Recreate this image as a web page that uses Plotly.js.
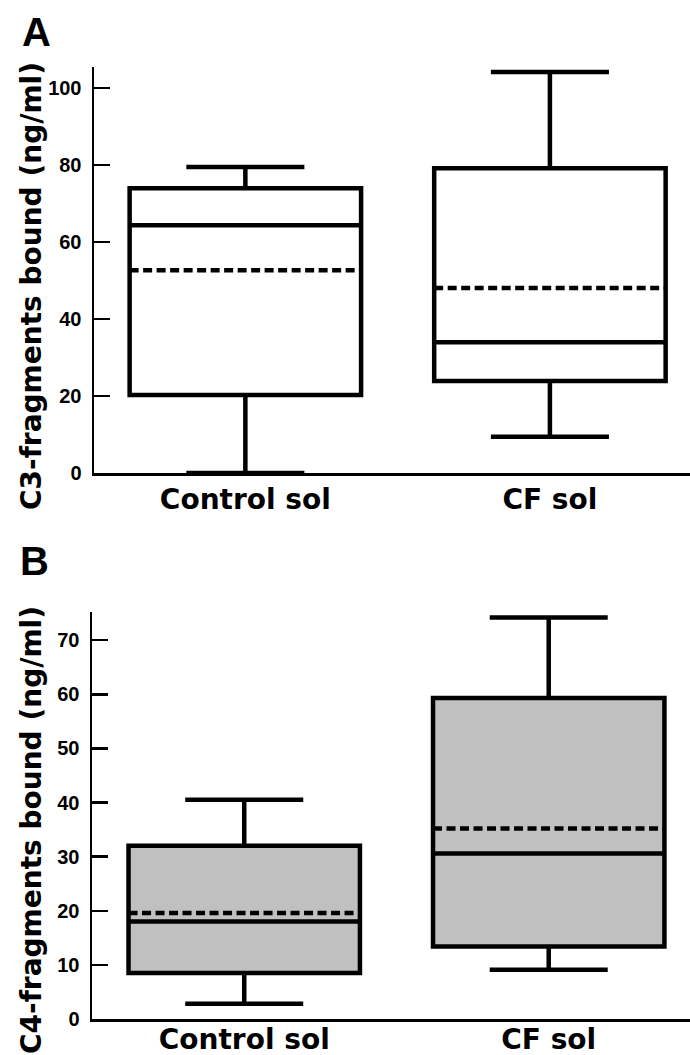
<!DOCTYPE html>
<html><head><meta charset="utf-8">
<script src="https://cdn.plot.ly/plotly-3.0.1.min.js"></script>
<style>html,body{margin:0;padding:0;background:#fff;} #chart{width:690px;height:1055px;}</style>
</head><body><div id="chart"></div>
<script>
const categories = ["Control sol", "CF sol"];
// Panel A: C3-fragments bound (ng/ml)
const c3Lower = [0, 9.4];
const c3Q1 = [20.3, 23.9];
const c3Median = [64.4, 34.0];
const c3Mean = [52.7, 48.1];
const c3Q3 = [74.0, 79.2];
const c3Upper = [79.5, 104.2];
const c3TickVals = [0, 20, 40, 60, 80, 100];
// Panel B: C4-fragments bound (ng/ml)
const c4Lower = [2.8, 9.1];
const c4Q1 = [8.5, 13.4];
const c4Median = [18.0, 30.6];
const c4Mean = [19.6, 35.2];
const c4Q3 = [32.0, 59.3];
const c4Upper = [40.5, 74.2];
const c4TickVals = [0, 10, 20, 30, 40, 50, 60, 70];

const W = 690, H = 1055;
const px = v => v / W;
const py = v => 1 - v / H;

const boxStyle = {
  type: 'box', boxmean: true, boxpoints: false, width: 0.76, whiskerwidth: 0.51,
  line: {color: '#000', width: 4.5}, hoverinfo: 'skip'
};

const traces = [
  Object.assign({}, boxStyle, {
    x: categories, q1: c3Q1, median: c3Median, q3: c3Q3,
    lowerfence: c3Lower, upperfence: c3Upper, mean: c3Mean,
    fillcolor: '#ffffff', xaxis: 'x', yaxis: 'y'
  }),
  Object.assign({}, boxStyle, {
    x: categories, q1: c4Q1, median: c4Median, q3: c4Q3,
    lowerfence: c4Lower, upperfence: c4Upper, mean: c4Mean,
    fillcolor: '#c0c0c0', xaxis: 'x2', yaxis: 'y2'
  })
];

const xCommon = {
  type: 'category', showline: true, linecolor: '#000', linewidth: 2.5,
  ticks: '', showgrid: false, zeroline: false, fixedrange: true,
  tickfont: {family: 'DejaVu Sans', size: 28, weight: 'bold', color: '#000'}
};
const yCommon = {
  showline: true, linecolor: '#000', linewidth: 2.5,
  ticks: 'inside', ticklen: 16, tickwidth: 2.5, tickcolor: '#000',
  showgrid: false, zeroline: false, fixedrange: true,
  tickfont: {family: 'Liberation Sans', size: 20, weight: 'bold', color: '#000'},
  ticklabelstandoff: 6
};

const layout = {
  width: W, height: H, margin: {l: 0, r: 0, t: 0, b: 0},
  paper_bgcolor: '#fff', plot_bgcolor: 'rgba(0,0,0,0)', showlegend: false,
  xaxis: Object.assign({}, xCommon, {domain: [px(94), 1], anchor: 'y', range: [-0.497, 1.46], ticklabelstandoff: 0}),
  yaxis: Object.assign({}, yCommon, {domain: [py(473), py(67)], anchor: 'x', range: [0, 105.5], tickvals: c3TickVals}),
  xaxis2: Object.assign({}, xCommon, {domain: [px(92), 1], anchor: 'y2', range: [-0.5, 1.464], ticklabelstandoff: -6}),
  yaxis2: Object.assign({}, yCommon, {domain: [py(1019), py(612)], anchor: 'x2', range: [0, 75.2], tickvals: c4TickVals}),
  annotations: [
    {text: 'A', xref: 'paper', yref: 'paper', x: px(36), y: py(32), xanchor: 'center', yanchor: 'middle', showarrow: false,
     font: {family: 'Liberation Sans', size: 40, weight: 'bold', color: '#000'}},
    {text: 'B', xref: 'paper', yref: 'paper', x: px(34), y: py(561), xanchor: 'center', yanchor: 'middle', showarrow: false,
     font: {family: 'Liberation Sans', size: 40, weight: 'bold', color: '#000'}},
    {text: 'C3-fragments bound (ng/ml)', xref: 'paper', yref: 'paper', x: px(31), y: py(286), xanchor: 'center', yanchor: 'middle',
     textangle: -90, showarrow: false, font: {family: 'DejaVu Sans', size: 28, weight: 'bold', color: '#000'}},
    {text: 'C4-fragments bound (ng/ml)', xref: 'paper', yref: 'paper', x: px(31), y: py(830), xanchor: 'center', yanchor: 'middle',
     textangle: -90, showarrow: false, font: {family: 'DejaVu Sans', size: 28, weight: 'bold', color: '#000'}}
  ]
};

Plotly.newPlot('chart', traces, layout, {displayModeBar: false, staticPlot: true});
</script>
</body></html>
